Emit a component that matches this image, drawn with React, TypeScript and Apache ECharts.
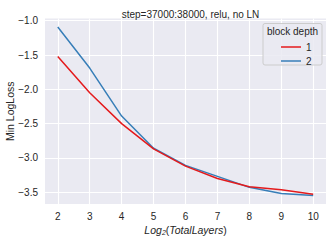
import React, { useEffect, useRef } from "react";
import * as echarts from "echarts";

const xValues = [2, 3, 4, 5, 6, 7, 8, 9, 10];
const depth1 = [-1.52, -2.05, -2.5, -2.87, -3.12, -3.3, -3.42, -3.465, -3.53];
const depth2 = [-1.09, -1.69, -2.39, -2.86, -3.11, -3.27, -3.43, -3.52, -3.55];
const xTicks = [2, 3, 4, 5, 6, 7, 8, 9, 10];
const yTicks = [-3.5, -3.0, -2.5, -2.0, -1.5, -1.0];
const seriesNames = ["1", "2"];
const colors = ["#e41a1c", "#377eb8"];

const FONT = "'Liberation Sans', Arial, sans-serif";
const TXT = "#262626";

export default function App() {
  const ref = useRef<HTMLDivElement>(null);
  useEffect(() => {
    if (!ref.current) return;
    document.body.style.margin = "0";
    const chart = echarts.init(ref.current, null, { renderer: "svg" });
    const fmt = (v: number) => (v < 0 ? "\u2212" : "") + Math.abs(v).toFixed(1);
    chart.setOption({
      animation: false,
      backgroundColor: "#ffffff",
      textStyle: { fontFamily: FONT },
      title: {
        text: "step=37000:38000, relu, no LN",
        left: 185.5,
        textAlign: "center",
        top: 4,
        textStyle: { fontSize: 10, fontWeight: "normal", color: TXT, fontFamily: FONT },
      },
      grid: {
        left: 45,
        right: 6,
        top: 18.5,
        bottom: 37,
        containLabel: false,
        outerBoundsMode: "none",
        show: true,
        backgroundColor: "#eaeaf2",
        borderWidth: 0,
      },
      xAxis: {
        type: "value",
        min: 1.6,
        max: 10.4,
        axisLine: { show: false },
        axisTick: { show: false, customValues: xTicks },
        axisLabel: {
          customValues: xTicks,
          color: TXT,
          fontSize: 10,
          margin: 7,
          fontFamily: FONT,
        },
        splitLine: { show: true, lineStyle: { color: "#ffffff", width: 1.1 } },
        name: "{i|Log}{s|2}{n|(}{i|TotalLayers}{n|)}",
        nameLocation: "middle",
        nameGap: 20,
        nameMoveOverlap: false,
        nameTextStyle: {
          color: TXT,
          rich: {
            i: { fontSize: 10.5, fontStyle: "italic", color: TXT, fontFamily: FONT },
            n: { fontSize: 10.5, color: TXT, fontFamily: FONT },
            s: { fontSize: 7, fontStyle: "italic", color: TXT, fontFamily: FONT, verticalAlign: "bottom", padding: [5, 0, 0, 0] },
          },
        },
      },
      yAxis: {
        type: "value",
        min: -3.6728,
        max: -0.9672,
        axisLine: { show: false },
        axisTick: { show: false, customValues: yTicks },
        axisLabel: {
          customValues: yTicks,
          color: TXT,
          fontSize: 10,
          margin: 7,
          fontFamily: FONT,
          formatter: fmt,
        },
        splitLine: { show: true, lineStyle: { color: "#ffffff", width: 1.1 } },
        name: "Min LogLoss",
        nameLocation: "middle",
        nameGap: 30,
        nameMoveOverlap: false,
        nameTextStyle: { color: TXT, fontSize: 10.5, fontFamily: FONT },
      },
      legend: {
        data: seriesNames,
        orient: "vertical",
        left: 276,
        top: 36,
        itemWidth: 20,
        itemHeight: 1.5,
        itemGap: 2,
        icon: "rect",
        z: 10,
        textStyle: { color: TXT, fontSize: 10, fontFamily: FONT, lineHeight: 12 },
      },
      graphic: [
        {
          type: "rect",
          z: 5,
          shape: { x: 263, y: 23.5, width: 59, height: 41.5, r: 2 },
          style: { fill: "rgba(234,234,242,0.85)", stroke: "#cccccc", lineWidth: 1 },
        },
        {
          type: "text",
          z: 6,
          x: 292.5,
          y: 31,
          style: {
            text: "block depth",
            fill: TXT,
            fontSize: 10,
            fontFamily: FONT,
            align: "center",
            verticalAlign: "middle",
          },
        },
      ],
      series: seriesNames.map((name, i) => ({
        name,
        type: "line",
        data: xValues.map((x, j) => [x, i === 0 ? depth1[j] : depth2[j]]),
        symbol: "none",
        lineStyle: { color: colors[i], width: 1.5 },
        itemStyle: { color: colors[i] },
        z: i === 0 ? 3 : 2,
      })),
    });
    return () => chart.dispose();
  }, []);
  return <div ref={ref} style={{ width: 332, height: 241 }} />;
}
